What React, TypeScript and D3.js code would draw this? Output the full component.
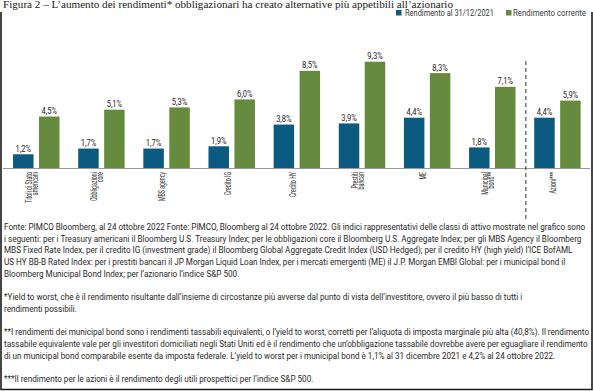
import React, { useEffect, useRef } from "react";
import * as d3 from "d3";

const categories: string[][] = [
  ["Titoli di Stato", "americani"],
  ["Obbligazioni", "core"],
  ["MBS agency"],
  ["Credito IG"],
  ["Credito HY"],
  ["Prestiti", "bancari"],
  ["ME"],
  ["Municipal", "bond**"],
  ["Azioni***"],
];
const rendimento2021 = [1.2, 1.7, 1.7, 1.9, 3.8, 3.9, 4.4, 1.8, 4.4];
const rendimentoCorrente = [4.5, 5.1, 5.3, 6.0, 8.5, 9.3, 8.3, 7.1, 5.9];
const seriesNames = ["Rendimento al 31/12/2021", "Rendimento corrente"];

const title =
  "Figura 2 – L’aumento dei rendimenti* obbligazionari ha creato alternative più appetibili all’azionario";

const footnotes: string[][] = [
  [
    "Fonte: PIMCO Bloomberg, al 24 ottobre 2022 Fonte: PIMCO, Bloomberg al 24 ottobre 2022. Gli indici rappresentativi delle classi di attivo mostrate nel grafico sono",
    "i seguenti: per i Treasury americani il Bloomberg U.S. Treasury Index; per le obbligazioni core il Bloomberg U.S. Aggregate Index; per gli MBS Agency il Bloomberg",
    "MBS Fixed Rate Index, per il credito IG (investment grade) il Bloomberg Global Aggregate Credit Index (USD Hedged); per il credito HY (high yield) l’ICE BofAML",
    "US HY BB-B Rated Index: per i prestiti bancari il JP Morgan Liquid Loan Index, per i mercati emergenti (ME) il J.P. Morgan EMBI Global: per i municipal bond il",
    "Bloomberg Municipal Bond Index; per l’azionario l’indice S&P 500.",
  ],
  [
    "*Yield to worst, che è il rendimento risultante dall’insieme di circostanze più avverse dal punto di vista dell’investitore, ovvero il più basso di tutti i",
    "rendimenti possibili.",
  ],
  [
    "**I rendimenti dei municipal bond sono i rendimenti tassabili equivalenti, o l’yield to worst, corretti per l’aliquota di imposta marginale più alta (40,8%). Il rendimento",
    "tassabile equivalente vale per gli investitori domiciliati negli Stati Uniti ed è il rendimento che un’obbligazione tassabile dovrebbe avere per eguagliare il rendimento",
    "di un municipal bond comparabile esente da imposta federale. L’yield to worst per i municipal bond è 1,1% al 31 dicembre 2021 e 4,2% al 24 ottobre 2022.",
  ],
  ["***Il rendimento per le azioni è il rendimento degli utili prospettici per l’indice S&P 500."],
];

const BLUE = "#0d5a80";
const GREEN = "#668b3e";
const SANS = "Roboto, 'Noto Sans', sans-serif";

export default function App() {
  const ref = useRef<SVGSVGElement>(null);

  useEffect(() => {
    const svg = d3.select(ref.current);
    svg.selectAll("*").remove();

    const baseY = 168;

    // frame
    svg
      .append("path")
      .attr("d", `M1,12 V389.5 H592 V12`)
      .attr("fill", "none")
      .attr("stroke", "#1a1a1a")
      .attr("stroke-width", 1.6);

    // title
    svg
      .append("text")
      .attr("x", 3)
      .attr("y", 7.8)
      .attr("font-family", "'Liberation Serif', 'DejaVu Serif', serif")
      .attr("font-size", 9.4)
      .attr("fill", "#222")
      .attr("textLength", 450)
      .attr("lengthAdjust", "spacingAndGlyphs")
      .text(title);

    // legend
    const legendItems = [
      { name: seriesNames[0], color: BLUE, sx: 396, tx: 405, w: 89 },
      { name: seriesNames[1], color: GREEN, sx: 506, tx: 513, w: 73 },
    ];
    legendItems.forEach((d) => {
      svg.append("rect").attr("x", d.sx).attr("y", 10).attr("width", 5.5).attr("height", 5.5).attr("fill", d.color);
      svg
        .append("text")
        .attr("x", d.tx)
        .attr("y", 15.6)
        .attr("font-family", SANS)
        .attr("font-size", 8.4)
        .attr("fill", "#3a3a3a")
        .attr("textLength", d.w)
        .attr("lengthAdjust", "spacingAndGlyphs")
        .text(d.name);
    });

    // scales
    const idx = categories.map((_, i) => String(i));
    const x0 = d3.scaleBand<string>().domain(idx).range([3.7, 590]).paddingInner(0.287).paddingOuter(0.1435);
    const x1 = d3.scaleBand<string>().domain(["a", "b"]).range([0, x0.bandwidth()]).paddingInner(0.21).paddingOuter(0);
    const y = d3.scaleLinear().domain([0, 10]).range([baseY, baseY - 114.3]);

    const fmt = (v: number) => d3.format(".1f")(v).replace(".", ",") + "%";

    const measure = (txt: string, size: number) => {
      const t = svg.append("text").attr("font-family", SANS).attr("font-size", size).text(txt);
      const len = (t.node() as SVGTextElement).getComputedTextLength();
      t.remove();
      return len;
    };

    const valSize = 8.8;
    const valScale = 15.5 / measure("4,5%", valSize);

    // bars
    const g = svg.append("g");
    categories.forEach((_, i) => {
      const gx = x0(String(i))!;
      const vals = [
        { k: "a", v: rendimento2021[i], c: BLUE },
        { k: "b", v: rendimentoCorrente[i], c: GREEN },
      ];
      vals.forEach((d) => {
        const bx = gx + x1(d.k)!;
        g.append("rect")
          .attr("x", bx)
          .attr("y", y(d.v))
          .attr("width", x1.bandwidth())
          .attr("height", baseY - y(d.v))
          .attr("fill", d.c);
        g.append("text")
          .attr("transform", `translate(${bx + x1.bandwidth() / 2},${y(d.v) - 2.6}) scale(${valScale},1)`)
          .attr("text-anchor", "middle")
          .attr("font-family", SANS)
          .attr("font-size", valSize)
          .attr("fill", "#222")
          .text(fmt(d.v));
      });
    });

    // axis line
    svg
      .append("line")
      .attr("x1", 3)
      .attr("x2", 590)
      .attr("y1", baseY + 0.5)
      .attr("y2", baseY + 0.5)
      .attr("stroke", "#9a9a9a")
      .attr("stroke-width", 1);

    // dashed separator
    const sepX = (x0("7")! + x0.bandwidth() + x0("8")!) / 2 + 1;
    svg
      .append("line")
      .attr("x1", sepX)
      .attr("x2", sepX)
      .attr("y1", 61)
      .attr("y2", 221)
      .attr("stroke", "#333")
      .attr("stroke-width", 1)
      .attr("stroke-dasharray", "4,3");

    // category labels
    const catSize = 8.2;
    const catScale = 31 / measure("Titoli di Stato", catSize);
    const lineGap = 6;
    categories.forEach((lines, i) => {
      const cx = x0(String(i))! + x0.bandwidth() / 2;
      lines.forEach((ln, j) => {
        const bx = cx + (j - (lines.length - 1) / 2) * lineGap - 1.2;
        svg
          .append("text")
          .attr("transform", `translate(${bx},172) rotate(-90) scale(${catScale},1)`)
          .attr("text-anchor", "end")
          .attr("font-family", SANS)
          .attr("font-size", catSize)
          .attr("fill", "#333")
          .text(ln);
      });
    });

    // footnotes
    const fSize = 9.2;
    const fScale = 581 / measure(footnotes[0][0], fSize);
    const lh = 11.7;
    let fy = 230;
    footnotes.forEach((para, pi) => {
      if (pi > 0) fy += lh;
      para.forEach((ln) => {
        svg
          .append("text")
          .attr("transform", `translate(4,${fy}) scale(${fScale},1)`)
          .attr("font-family", SANS)
          .attr("font-size", fSize)
          .attr("fill", "#2a2a2a")
          .text(ln);
        fy += lh;
      });
    });
  }, []);

  return (
    <svg
      ref={ref}
      width={593}
      height={391}
      style={{ position: "absolute", left: 0, top: 0, background: "#fff" }}
    />
  );
}
